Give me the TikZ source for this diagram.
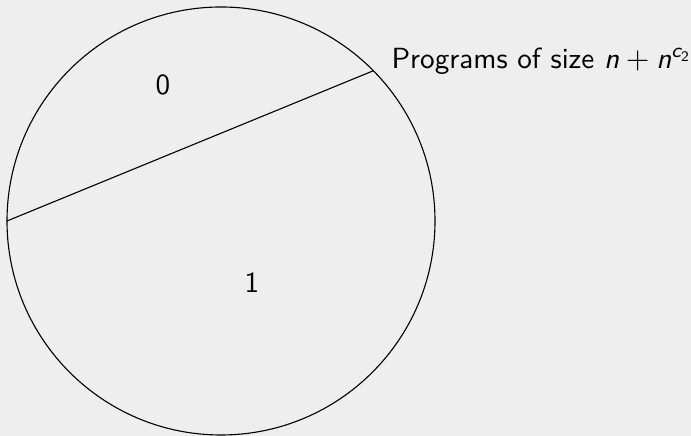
\documentclass[tikz,border=0pt]{standalone}
\usepackage{amsmath}
\usepackage{xcolor}
\definecolor{slidebg}{RGB}{238,238,238}
\usepackage{tikz}
\usetikzlibrary{calc}

\newcommand{\sfvar}[1]{\textit{#1}}

\tikzset{
  regionlabel/.style={font=\fontsize{10.5}{12}\sffamily, inner sep=0pt},
  setlabel/.style={font=\fontsize{10.5}{12}\sffamily, anchor=base west, inner sep=0pt}
}

\begin{document}
\begin{tikzpicture}[x=0.36pt, y=-0.36pt]
  % Background
  \fill[slidebg] (0,0) rectangle (691,436);
  \useasboundingbox (0,0) rectangle (691,436);

  % Circle of programs
  \coordinate (c) at (221,221);
  \draw (c) circle (214);

  % Cut through the circle
  \coordinate (west) at ($(c)+(180:214)$);
  \coordinate (cut) at ($(c)+(-44.6:214)$);
  \draw (west) -- (cut);

  % Labels
  \node[regionlabel] (zero) at (163,85) {0};
  \node[regionlabel] (one) at (252,283) {1};
  \node[setlabel] (size) at (391,69) {Programs of size $\sfvar{n} + \sfvar{n}^{\sfvar{c}_{\textup{2}}}$};
\end{tikzpicture}
\end{document}
